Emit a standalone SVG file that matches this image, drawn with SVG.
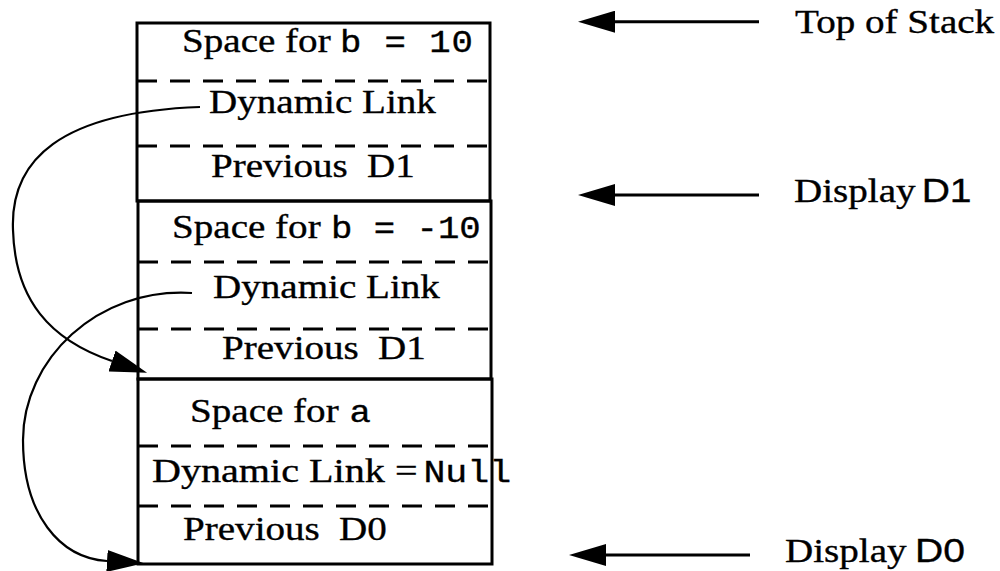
<svg xmlns="http://www.w3.org/2000/svg" width="1000" height="571" viewBox="0 0 1000 571">
<style>
.box{fill:none;stroke:#000;stroke-width:3}
.dash{stroke:#000;stroke-width:3;stroke-dasharray:20 13}
.s{font-family:"Liberation Serif","Times New Roman",serif;font-size:34px;fill:#000;stroke:#000;stroke-width:0.35}
.m{font-family:"Liberation Mono","Courier New",monospace;font-size:31px}
.a{font-family:"Liberation Sans",Arial,sans-serif}
.curve{fill:none;stroke:#000;stroke-width:2.2}
.ptr{fill:none;stroke:#000;stroke-width:3}
</style>
<defs>
<marker id="ah" markerUnits="userSpaceOnUse" viewBox="0 0 37 22" markerWidth="37" markerHeight="22" refX="0" refY="11" orient="auto">
<path d="M0,0 L37,11 L0,22 z" fill="#000"/>
</marker>
</defs>
<rect width="1000" height="571" fill="#fff"/>

<g id="frame-top">
<rect class="box" x="137" y="23" width="353" height="178"/>
<line class="dash" x1="137" y1="81" x2="490" y2="81"/>
<line class="dash" x1="137" y1="146" x2="490" y2="146"/>
<text class="s" transform="translate(182,52) scale(1.15,1)">Space for <tspan class="m" x="137.4" letter-spacing="0.8">b = 10</tspan></text>
<text class="s" transform="translate(209,113) scale(1.15,1)">Dynamic Link</text>
<text class="s" transform="translate(211,177) scale(1.15,1)">Previous <tspan x="135.7">D1</tspan></text>
</g>

<g id="frame-mid">
<rect class="box" x="138" y="201" width="353" height="178"/>
<line class="dash" x1="138" y1="262" x2="491" y2="262"/>
<line class="dash" x1="138" y1="329" x2="491" y2="329"/>
<text class="s" transform="translate(172,238) scale(1.15,1)">Space for <tspan class="m" x="138.3">b = -10</tspan></text>
<text class="s" transform="translate(213,298) scale(1.15,1)">Dynamic Link</text>
<text class="s" transform="translate(222,359) scale(1.15,1)">Previous <tspan x="135.7">D1</tspan></text>
</g>

<g id="frame-bottom">
<rect class="box" x="138" y="379" width="354" height="185"/>
<line class="dash" x1="138" y1="446" x2="492" y2="446"/>
<line class="dash" x1="138" y1="506" x2="492" y2="506"/>
<text class="s" transform="translate(190,422) scale(1.15,1)">Space for <tspan class="m" x="138.8">a</tspan></text>
<text class="s" transform="translate(152,482) scale(1.18,1)">Dynamic Link <tspan x="205.9">=</tspan> <tspan class="m" x="230" font-size="27">Null</tspan></text>
<text class="s" transform="translate(183,540) scale(1.15,1)">Previous <tspan x="135.7">D0</tspan></text>
</g>

<g id="label-top">
<text class="s" transform="translate(795,33) scale(1.15,1)">Top of Stack</text>
</g>
<g id="label-d1">
<text class="s" transform="translate(794,202) scale(1.15,1)">Display <tspan class="a" x="111">D1</tspan></text>
</g>
<g id="label-d0">
<text class="s" transform="translate(785,562) scale(1.15,1)">Display <tspan class="a" x="113">D0</tspan></text>
</g>

<g id="connectors">
<path class="curve" d="M200,107 C60,112 10,160 13,230 C15,300 50,340 112,361" marker-end="url(#ah)"/>
<path class="curve" d="M192,293 C97,287 23,360 23,440 C23,515 60,558 107,561" marker-end="url(#ah)"/>
<line class="ptr" x1="759" y1="21.7" x2="615" y2="21.7" marker-end="url(#ah)"/>
<line class="ptr" x1="759" y1="195" x2="615" y2="195" marker-end="url(#ah)"/>
<line class="ptr" x1="750" y1="555" x2="606" y2="555" marker-end="url(#ah)"/>
</g>
</svg>
